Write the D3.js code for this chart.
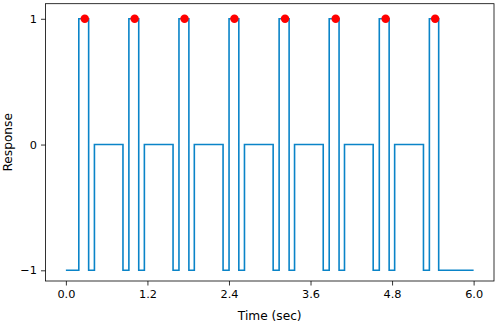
<!DOCTYPE html>
<html>
<head>
<meta charset="utf-8">
<script src="https://cdn.jsdelivr.net/npm/d3@7"></script>
<style>
  body { margin: 0; background: #fff; }
  svg text { font-family: "DejaVu Sans", sans-serif; fill: #000; }
  .axis path, .axis line { stroke: #000; stroke-width: 0.8; }
</style>
</head>
<body>
<div id="viz"></div>
<script>
// step response: breakpoints (time in sec, level after the step)
var stepTimes = [0.0, 0.19, 0.335, 0.42, 0.84,
                 0.927, 1.072, 1.155, 1.577,
                 1.664, 1.81, 1.89, 2.313,
                 2.401, 2.545, 2.628, 3.05,
                 3.138, 3.285, 3.365, 3.787,
                 3.875, 4.02, 4.1, 4.522,
                 4.612, 4.757, 4.838, 5.262,
                 5.349, 5.486, 6.0];
var stepLevels = [-1, 1, -1, 0, -1,
                  1, -1, 0, -1,
                  1, -1, 0, -1,
                  1, -1, 0, -1,
                  1, -1, 0, -1,
                  1, -1, 0, -1,
                  1, -1, 0, -1,
                  1, -1, -1];

// peak markers
var peakTimes = [0.278, 1.012, 1.746, 2.48, 3.225, 3.97, 4.705, 5.434];
var peakLevels = [1, 1, 1, 1, 1, 1, 1, 1];

var xTicks = [0.0, 1.2, 2.4, 3.6, 4.8, 6.0];
var yTicks = [-1, 0, 1];

(function() {
  var w = 498, h = 324;
  var m = {left: 45.5, right: 494, top: 3.7, bottom: 281};

  var svg = d3.select("#viz").append("svg")
    .attr("width", w)
    .attr("height", h);

  var x = d3.scaleLinear().domain([-0.3, 6.3]).range([m.left, m.right]);
  var y = d3.scaleLinear().domain([-1.085, 1.12]).range([m.bottom, m.top]);

  var pts = stepTimes.map((t, i) => [t, stepLevels[i]]);

  var line = d3.line()
    .x(d => x(d[0]))
    .y(d => y(d[1]))
    .curve(d3.curveStepAfter);

  svg.append("path")
    .datum(pts)
    .attr("d", line)
    .attr("fill", "none")
    .attr("stroke", "#0a84c8")
    .attr("stroke-width", 1.6);

  svg.selectAll("circle")
    .data(peakTimes)
    .enter()
    .append("circle")
    .attr("cx", d => x(d))
    .attr("cy", (d, i) => y(peakLevels[i]))
    .attr("r", 4.2)
    .attr("fill", "#ff0000");

  // frame
  svg.append("rect")
    .attr("x", m.left).attr("y", m.top)
    .attr("width", m.right - m.left).attr("height", m.bottom - m.top)
    .attr("fill", "none")
    .attr("stroke", "#000")
    .attr("stroke-width", 0.8);

  svg.append("g")
    .attr("class", "axis")
    .attr("transform", "translate(0," + m.bottom + ")")
    .call(d3.axisBottom(x).tickValues(xTicks).tickFormat(d3.format(".1f")).tickSize(4.5).tickPadding(4));

  svg.append("g")
    .attr("class", "axis")
    .attr("transform", "translate(" + m.left + ",0)")
    .call(d3.axisLeft(y).tickValues(yTicks).tickFormat(d => d < 0 ? "\u2212" + Math.abs(d) : d).tickSize(4.5).tickPadding(4));

  svg.selectAll(".axis .domain").remove();
  svg.selectAll(".axis text").style("font-size", "11.3px").style("font-family", "DejaVu Sans, sans-serif");

  svg.append("text")
    .attr("x", (m.left + m.right) / 2)
    .attr("y", 320)
    .attr("text-anchor", "middle")
    .style("font-size", "12.2px")
    .text("Time (sec)");

  svg.append("text")
    .attr("transform", "translate(12," + ((m.top + m.bottom) / 2) + ") rotate(-90)")
    .attr("text-anchor", "middle")
    .style("font-size", "12.2px")
    .text("Response");
})();
</script>
</body>
</html>
